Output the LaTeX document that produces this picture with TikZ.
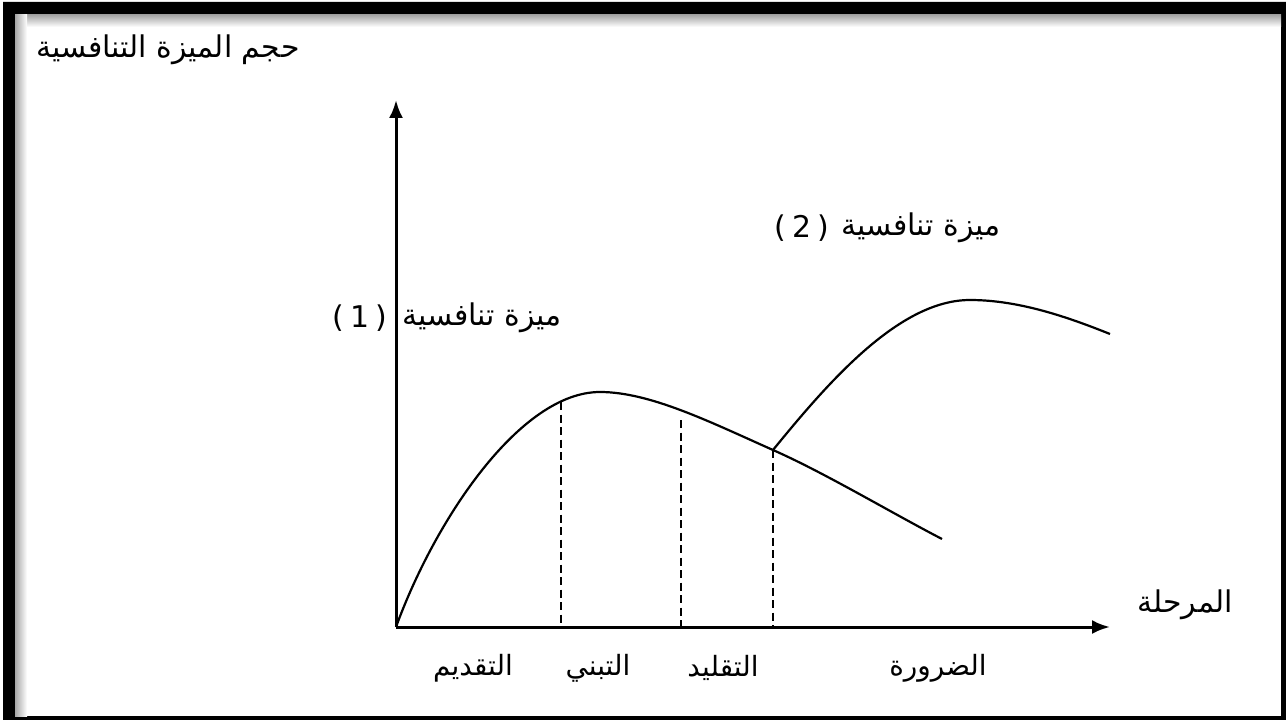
\documentclass[tikz,border=0pt]{standalone}
\usepackage{fontspec}
\newfontfamily\arabicfont[Script=Arabic]{DejaVu Sans}
\newfontfamily\latinfont{DejaVu Sans}
\TeXXeTstate=1
\usetikzlibrary{arrows.meta}
\begin{document}
\begin{tikzpicture}[x=1bp,y=-1bp,
  axis/.style={line width=3bp,-{Latex[length=18bp,width=14bp]}},
  curve/.style={line width=2.2bp},
  guide/.style={line width=2.4bp,dash pattern=on 8bp off 4.5bp},
  lbl/.style={font=\arabicfont\fontsize{30}{36}\selectfont,inner sep=0pt},
  numlbl/.style={font=\latinfont\fontsize{30}{34}\selectfont,inner sep=0pt},
  stagelbl/.style={font=\arabicfont\fontsize{28}{32}\selectfont,inner sep=0pt}]
\useasboundingbox (0,0) rectangle (1286,720);
\fill[white] (0,0) rectangle (1286,720);
% frame
\fill[black,even odd rule] (3,2) rectangle (1286,720) (15,15) rectangle (1281,716);
\shade[top color=black!35,bottom color=white] (15,15) rectangle (1281,27);
\shade[left color=black!35,right color=white] (15,15) rectangle (27,716);
% points
\coordinate (O) at (396,627);
\coordinate (ytip) at (396,100);
\coordinate (xtip) at (1110,627);
\coordinate (P1) at (600,392);
\coordinate (X) at (773,450);
\coordinate (E1) at (942,539);
\coordinate (P2) at (970,300);
\coordinate (E2) at (1110,334);
\coordinate (D1t) at (561,402);
\coordinate (D1b) at (561,627);
\coordinate (D2t) at (681,420);
\coordinate (D2b) at (681,627);
\coordinate (D3b) at (773,627);
% axes
\draw[axis] (O) -- (ytip);
\draw[axis] (O) -- (xtip);
% curve 1
\draw[curve] (O) .. controls (435,520) and (520,392) .. (P1)
  .. controls (650,392) and (710,422) .. (X)
  .. controls (825,473) and (890,512) .. (E1);
% curve 2
\draw[curve] (X) .. controls (830,380) and (900,300) .. (P2)
  .. controls (1020,300) and (1070,318) .. (E2);
% dashed guides
\draw[guide] (D1t) -- (D1b);
\draw[guide] (D2t) -- (D2b);
\draw[guide] (X) -- (D3b);
% labels
\node[lbl] (title) at (168,50) {\beginR حجم الميزة التنافسية\endR};
\node[lbl] (adv1) at (482,318) {\beginR ميزة تنافسية\endR};
\node[numlbl] (adv1n) at (360,318) {(\hspace{6bp}1\hspace{6bp})};
\node[lbl] (adv2) at (921,228) {\beginR ميزة تنافسية\endR};
\node[numlbl] (adv2n) at (802,228) {(\hspace{6bp}2\hspace{6bp})};
\node[lbl] (stage) at (1185,605) {\beginR المرحلة\endR};
\node[stagelbl] (s1) at (473,668) {\beginR التقديم\endR};
\node[stagelbl] (s2) at (598,668) {\beginR التبني\endR};
\node[stagelbl] (s3) at (723,668) {\beginR التقليد\endR};
\node[stagelbl] (s4) at (938,668) {\beginR الضرورة\endR};
\end{tikzpicture}
\end{document}
